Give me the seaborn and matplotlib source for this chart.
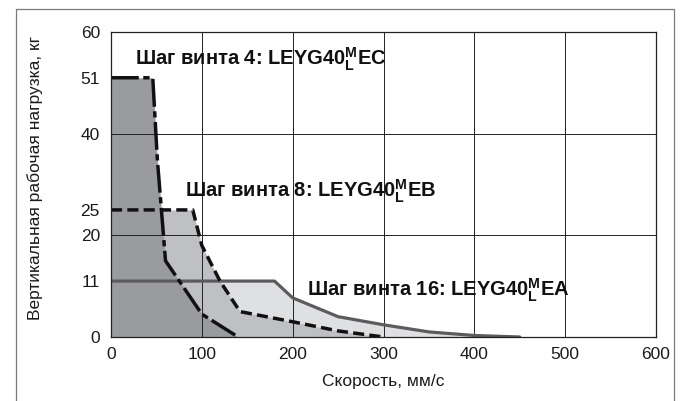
import matplotlib
matplotlib.use("Agg")
import matplotlib.pyplot as plt
import seaborn as sns
import pandas as pd
from matplotlib.lines import Line2D

# ---- data ----
speed_4 = [0, 46, 51, 60, 100, 140]
load_4 = [51, 51, 35, 15, 4.5, 0]

speed_8 = [0, 90, 100, 120, 142, 200, 250, 300]
load_8 = [25, 25, 18, 11, 5, 3, 1.2, 0]

speed_16 = [0, 180, 200, 250, 300, 350, 400, 450]
load_16 = [11, 11, 7.7, 4, 2.4, 1.0, 0.3, 0]

x_ticks = [0, 100, 200, 300, 400, 500, 600]
y_major = [0, 20, 40, 60]
y_minor = [11, 25, 51]

labels = [
    r"Шаг винта 4: LEYG40$^{\mathdefault{M}}_{\mathdefault{L}}$EC",
    r"Шаг винта 8: LEYG40$^{\mathdefault{M}}_{\mathdefault{L}}$EB",
    r"Шаг винта 16: LEYG40$^{\mathdefault{M}}_{\mathdefault{L}}$EA",
]
label_pos = [(26, 53.5), (81, 27.4), (216, 8.1)]

sns.set_style("white")
plt.rcParams["font.family"] = ["Liberation Sans", "DejaVu Sans"]

fig = plt.figure(figsize=(6.8, 4.01), dpi=100)
ax = fig.add_axes([111 / 680, 1 - 337 / 401, (656 - 111) / 680, (337 - 32) / 401])

# fills (light -> dark)
ax.fill_between(speed_16, load_16, 0, color="#dfe0e2", lw=0, zorder=1)
ax.fill_between(speed_8, load_8, 0, color="#bfc0c4", lw=0, zorder=1.1)
ax.fill_between(speed_4, load_4, 0, color="#9a9b9f", lw=0, zorder=1.2)

df16 = pd.DataFrame({"v": speed_16, "m": load_16})
df8 = pd.DataFrame({"v": speed_8, "m": load_8})
df4 = pd.DataFrame({"v": speed_4, "m": load_4})

sns.lineplot(data=df16, x="v", y="m", ax=ax, color="#5c5c5e", lw=2.3, sort=False, zorder=4)
l8 = sns.lineplot(data=df8, x="v", y="m", ax=ax, color="#111111", lw=2.5, sort=False, zorder=5).lines[-1]
l8.set_dashes((3.2, 1.5))
l4 = sns.lineplot(data=df4, x="v", y="m", ax=ax, color="#111111", lw=2.5, sort=False, zorder=6).lines[-1]
l4.set_dashes((8, 1.3, 1.8, 1.3))

ax.set_xlim(0, 600)
ax.set_ylim(0, 60)
ax.set_xticks(x_ticks)
ax.set_xticklabels([str(t) for t in x_ticks])
ax.set_yticks(y_major)
ax.set_yticklabels([str(t) for t in y_major])
ax.set_yticks(y_minor, minor=True)
ax.set_yticklabels([str(t) for t in y_minor], minor=True)

ax.grid(True, which="major", color="#222222", lw=0.7, zorder=2)
ax.set_axisbelow(False)
for gl in ax.get_xgridlines() + ax.get_ygridlines():
    gl.set_zorder(2)

ax.tick_params(axis="both", which="both", length=0, labelsize=12.5, colors="#1a1a1a")
ax.tick_params(axis="y", which="both", pad=8)
ax.tick_params(axis="x", which="both", pad=7)

for s in ax.spines.values():
    s.set_visible(True)
    s.set_color("#222222")
    s.set_linewidth(0.9)
    s.set_zorder(7)

ax.set_xlabel("Скорость, мм/с", fontsize=12.5, color="#1a1a1a", labelpad=9)
ax.set_ylabel("Вертикальная рабочая нагрузка, кг", fontsize=12.5, color="#1a1a1a")
ax.yaxis.set_label_coords(-0.125, 0.52)

for txt, (x, y) in zip(labels, label_pos):
    ax.text(x, y, txt, fontsize=14.5, fontweight="bold", ha="left", va="baseline",
            color="#111111", zorder=8)

# outer frame
fx0, fx1, fy1 = 16 / 680, 674 / 680, 1 - 9 / 401
for xs, ys in [([fx0, fx0], [0, fy1]), ([fx0, fx1], [fy1, fy1]), ([fx1, fx1], [fy1, 0])]:
    fig.add_artist(Line2D(xs, ys, transform=fig.transFigure, color="#7a7a7a", lw=0.9))

fig.savefig("out.png", dpi=100)
